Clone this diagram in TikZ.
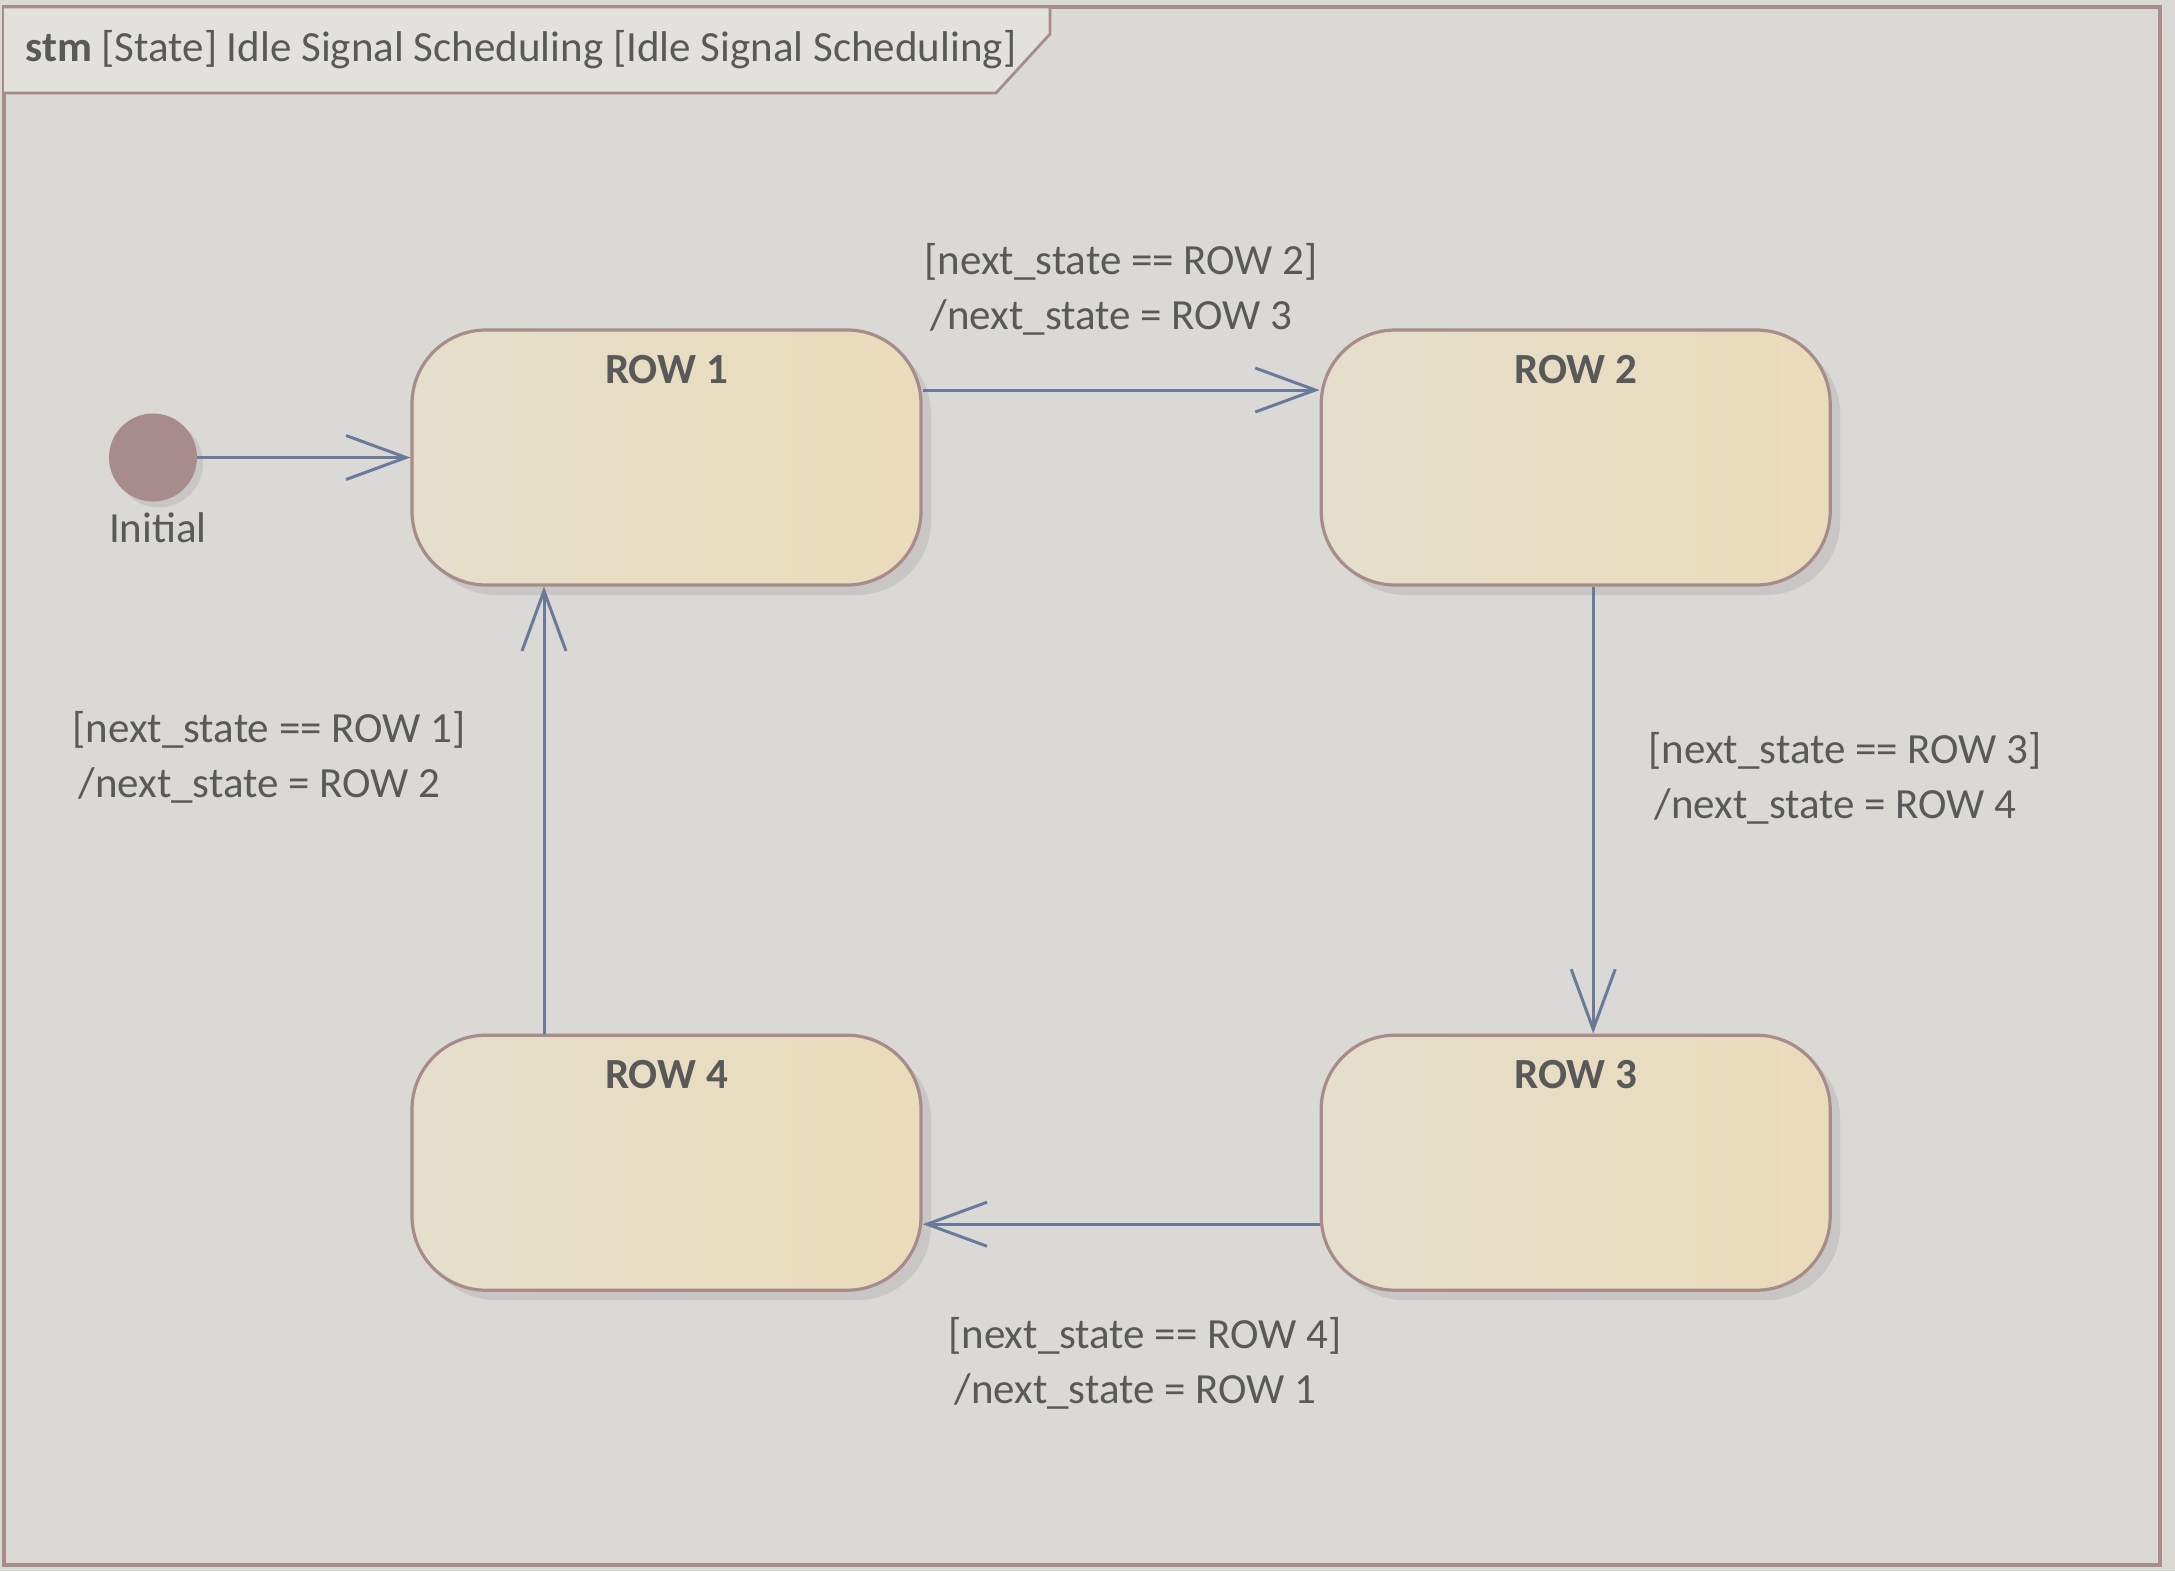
\documentclass[tikz,border=0pt]{standalone}
\usepackage{fontspec}
\setmainfont{Carlito}
\usepackage{xcolor}
\usetikzlibrary{arrows.meta, positioning, shadows}
\definecolor{stmbg}{RGB}{219,217,213}
\definecolor{stmtab}{RGB}{227,225,222}
\definecolor{stmedge}{RGB}{168,140,140}
\definecolor{stmfillL}{RGB}{229,222,203}
\definecolor{stmfillR}{RGB}{234,220,186}
\definecolor{stmshadow}{RGB}{200,199,197}
\definecolor{stmarrow}{RGB}{107,122,154}
\definecolor{stmtext}{RGB}{89,89,89}
\tikzset{
  stmfont/.style={font=\fontsize{21.5}{27.5}\selectfont, text=stmtext},
  state/.style={rectangle, rounded corners=37pt, draw=stmedge, line width=1.6pt, left color=stmfillL, right color=stmfillR, minimum width=254.5pt, minimum height=127.5pt, inner sep=0pt, drop shadow={shadow xshift=5pt, shadow yshift=-5pt, fill=stmshadow, draw=none, opacity=1}},
  statename/.style={stmfont, font=\fontsize{21.5}{27.5}\selectfont\bfseries, anchor=north, inner sep=0pt, yshift=-13pt},
  pseudostate/.style={circle, fill=stmedge, minimum size=44pt, inner sep=0pt, drop shadow={shadow xshift=3pt, shadow yshift=-3pt, fill=stmshadow, draw=none, opacity=1}},
  guard/.style={stmfont, align=left, inner sep=0pt},
  trans/.style={draw=stmarrow, line width=1.5pt, -{Straight Barb[length=30pt, width=22pt]}},
  frame/.style={draw=stmedge, line width=1.8pt},
  tab/.style={draw=stmedge, line width=1.4pt, fill=stmtab},
}
\begin{document}
\begin{tikzpicture}[x=0.5pt, y=-0.5pt, node distance=223.5pt and 198.5pt]
\useasboundingbox[fill=stmbg] (0,0) rectangle (2175,1571);
\draw[frame] (4,7) rectangle (2160,1565);
\draw[tab] (4,7) -- (1050,7) -- (1050,34) -- (996,93) -- (4,93);
\node[stmfont, anchor=west, inner sep=0pt] (ttl) at (25,50) {\textbf{stm} [State] Idle Signal Scheduling [Idle Signal Scheduling]};
% states
\node[state, label={[statename]north:ROW 1}] (r1) at (666.5,457.5) {};
\node[state, right=of r1, label={[statename]north:ROW 2}] (r2) {};
\node[state, below=of r1, label={[statename]north:ROW 4}] (r4) {};
\node[state, right=of r4, label={[statename]north:ROW 3}] (r3) {};
\node[pseudostate, left=106.5pt of r1, label={[stmfont, label distance=5pt, inner sep=0pt, xshift=2.5pt]below:Initial}] (init) {};
% transitions
\draw[trans] (init) -- (r1);
\draw[trans] ([yshift=33.75pt]r1.east) -- node[guard, above=26.5pt] (g12) {[next\_state == ROW 2]\\\hspace*{3pt}/next\_state = ROW 3} ([yshift=33.75pt]r2.west);
\draw[trans] ([xshift=8.75pt]r2.south) -- node[guard, right=27pt, pos=0.43] (g23) {[next\_state == ROW 3]\\\hspace*{3pt}/next\_state = ROW 4} ([xshift=8.75pt]r3.north);
\draw[trans] ([yshift=-30.75pt]r3.west) -- node[guard, below=46pt, pos=0.44] (g34) {[next\_state == ROW 4]\\\hspace*{3pt}/next\_state = ROW 1} ([yshift=-30.75pt]r4.east);
\draw[trans] ([xshift=-61.25pt]r4.north) -- node[guard, left=38.5pt, pos=0.617] (g41) {[next\_state == ROW 1]\\\hspace*{3pt}/next\_state = ROW 2} ([xshift=-61.25pt]r1.south);
\end{tikzpicture}
\end{document}
